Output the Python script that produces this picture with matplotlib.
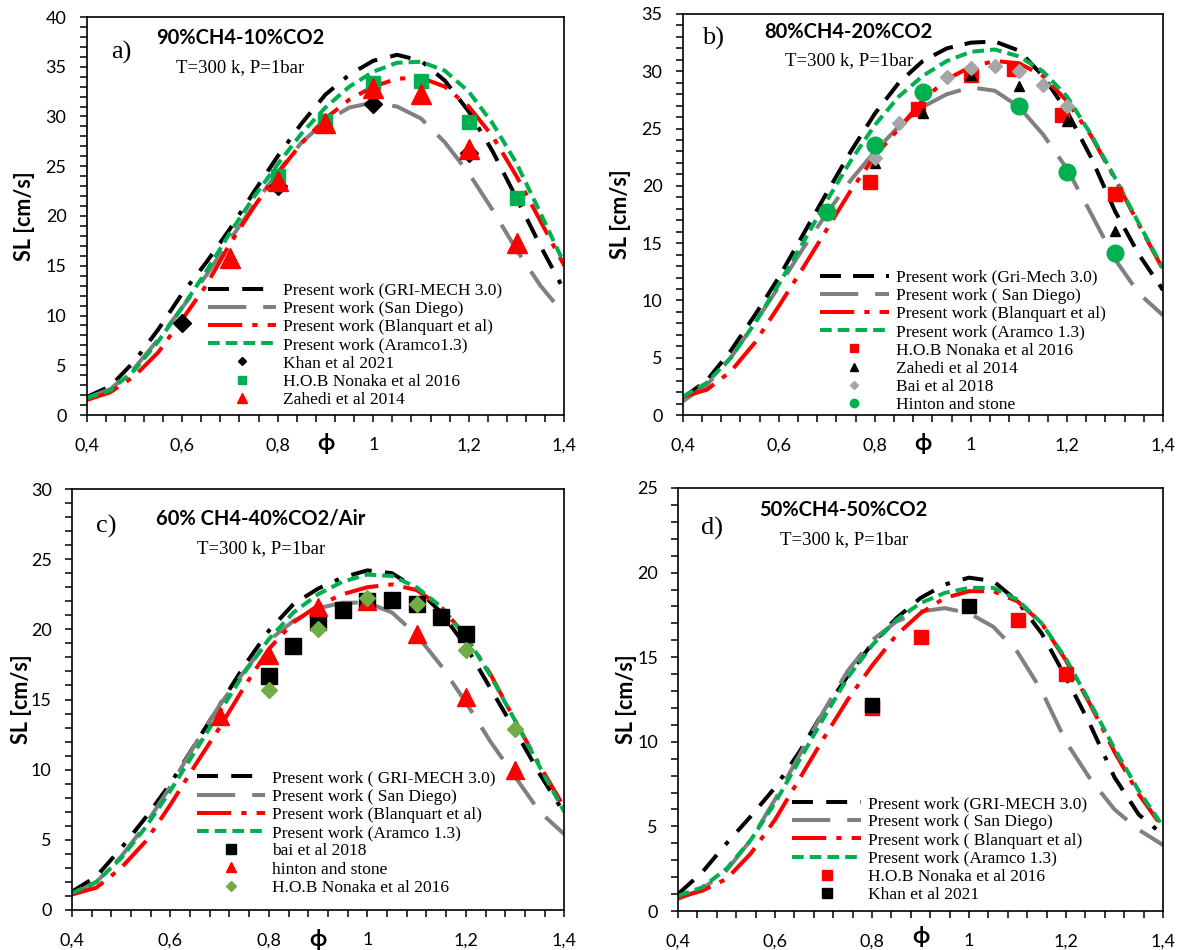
import matplotlib
matplotlib.use("Agg")
import matplotlib.pyplot as plt
from matplotlib.lines import Line2D
from matplotlib.ticker import MultipleLocator, FuncFormatter

# ---------------- data ----------------
PHI = [0.40, 0.45, 0.50, 0.55, 0.60, 0.65, 0.70, 0.75, 0.80, 0.85, 0.90,
       0.95, 1.00, 1.05, 1.10, 1.15, 1.20, 1.25, 1.30, 1.35, 1.40]

# panel a : 90%CH4-10%CO2
A_GRI = [1.8, 2.9, 5.4, 8.6, 12.2, 15.3, 18.7, 22.4, 26.0, 29.3, 32.2,
         34.2, 35.6, 36.2, 35.6, 33.6, 30.5, 26.5, 21.8, 17.0, 12.5]
A_SD = [1.7, 2.6, 4.7, 7.6, 10.8, 14.0, 17.6, 21.1, 24.4, 27.4, 29.5,
        30.9, 31.4, 31.0, 29.8, 27.4, 24.3, 20.6, 16.6, 13.0, 10.1]
A_BLQ = [1.5, 2.3, 3.9, 6.3, 9.6, 13.0, 17.2, 20.9, 24.3, 27.3, 29.8,
         31.7, 33.0, 33.8, 33.9, 33.0, 31.0, 28.0, 24.0, 19.5, 15.0]
A_ARA = [1.7, 2.5, 4.5, 7.4, 10.8, 14.4, 18.3, 21.9, 25.2, 28.3, 30.9,
         33.0, 34.5, 35.4, 35.5, 34.6, 32.5, 29.3, 25.3, 20.3, 15.2]
A_KHAN_X = [0.6, 0.8, 1.0, 1.2]
A_KHAN_Y = [9.2, 23.0, 31.3, 26.3]
A_NON_X = [0.8, 0.9, 1.0, 1.1, 1.2, 1.3]
A_NON_Y = [24.0, 29.5, 33.4, 33.6, 29.4, 21.8]
A_ZAH_X = [0.7, 0.8, 0.9, 1.0, 1.1, 1.2, 1.3]
A_ZAH_Y = [15.8, 23.5, 29.3, 32.9, 32.3, 26.7, 17.3]

# panel b : 80%CH4-20%CO2
B_GRI = [1.5, 3.0, 5.6, 8.7, 12.0, 15.7, 19.4, 23.0, 26.3, 29.0, 30.9,
         32.0, 32.5, 32.6, 31.8, 29.6, 26.5, 22.5, 17.8, 14.0, 10.9]
B_SD = [1.2, 2.6, 5.0, 8.0, 11.2, 14.5, 17.6, 20.5, 23.0, 25.2, 26.9,
        28.0, 28.6, 28.3, 26.9, 24.5, 21.5, 17.6, 13.6, 10.6, 8.7]
B_BLQ = [1.6, 2.2, 3.8, 6.3, 9.5, 12.8, 16.2, 19.6, 22.6, 25.0, 27.5,
         29.3, 30.4, 30.9, 30.7, 29.6, 27.4, 24.4, 20.6, 16.6, 12.7]
B_ARA = [1.6, 2.8, 5.0, 8.0, 11.4, 15.0, 18.7, 22.2, 25.3, 27.8, 29.6,
         30.9, 31.7, 31.9, 31.3, 30.0, 27.8, 24.5, 20.7, 16.7, 12.8]
B_NON_X = [0.79, 0.89, 1.0, 1.09, 1.19, 1.3]
B_NON_Y = [20.3, 26.7, 29.7, 30.2, 26.2, 19.3]
B_ZAH_X = [0.8, 0.9, 1.0, 1.1, 1.2, 1.3]
B_ZAH_Y = [22.0, 26.4, 29.7, 28.7, 25.7, 16.1]
B_BAI_X = [0.8, 0.85, 0.95, 1.0, 1.05, 1.1, 1.15, 1.2]
B_BAI_Y = [22.4, 25.5, 29.5, 30.3, 30.5, 30.0, 28.8, 27.0]
B_HIN_X = [0.7, 0.8, 0.9, 1.1, 1.2, 1.3]
B_HIN_Y = [17.7, 23.6, 28.2, 27.0, 21.2, 14.1]

# panel c : 60%CH4-40%CO2/Air
C_GRI = [1.3, 2.4, 4.4, 6.6, 9.0, 11.8, 14.6, 17.4, 19.9, 21.8, 22.9,
         23.7, 24.2, 24.0, 22.9, 21.2, 18.8, 15.8, 12.8, 9.7, 6.9]
C_SD = [1.1, 2.0, 3.8, 6.1, 8.8, 11.8, 14.6, 17.0, 19.2, 20.6, 21.5,
        21.9, 21.9, 21.2, 19.6, 17.4, 14.8, 12.0, 9.5, 7.0, 5.4]
C_BLQ = [1.1, 1.6, 3.0, 4.9, 7.5, 10.3, 13.0, 15.9, 18.6, 20.5, 21.7,
         22.5, 23.0, 23.2, 22.8, 21.6, 19.5, 16.8, 13.5, 10.3, 7.3]
C_ARA = [1.2, 2.0, 3.7, 5.9, 8.5, 11.3, 14.1, 16.9, 19.3, 21.2, 22.5,
         23.4, 23.9, 23.8, 23.0, 21.6, 19.5, 16.7, 13.5, 10.2, 7.0]
C_BAI_X = [0.8, 0.85, 0.9, 0.95, 1.0, 1.05, 1.1, 1.15, 1.2]
C_BAI_Y = [16.7, 18.8, 20.5, 21.4, 22.0, 22.1, 21.8, 20.9, 19.7]
C_HIN_X = [0.7, 0.8, 0.9, 1.0, 1.1, 1.2, 1.3]
C_HIN_Y = [13.8, 18.2, 21.6, 22.0, 19.7, 15.2, 10.0]
C_NON_X = [0.8, 0.9, 1.0, 1.1, 1.2, 1.3]
C_NON_Y = [15.7, 20.0, 22.2, 21.8, 18.5, 12.9]

# panel d : 50%CH4-50%CO2
D_GRI = [1.0, 2.3, 4.0, 5.6, 7.3, 9.4, 11.8, 13.9, 15.8, 17.3, 18.5,
         19.3, 19.7, 19.5, 18.3, 16.4, 13.8, 11.0, 7.9, 5.7, 4.5]
D_SD = [0.7, 1.3, 2.4, 4.2, 6.6, 9.2, 11.8, 14.2, 16.0, 17.1, 17.7,
        17.9, 17.6, 16.8, 15.3, 13.0, 10.0, 7.8, 6.0, 4.8, 3.9]
D_BLQ = [0.8, 1.2, 1.9, 3.4, 5.4, 7.8, 10.2, 12.5, 14.5, 16.3, 17.6,
         18.5, 18.9, 18.9, 18.3, 17.0, 14.8, 12.2, 9.4, 6.9, 4.9]
D_ARA = [0.9, 1.4, 2.5, 4.2, 6.4, 8.9, 11.4, 13.8, 15.7, 17.2, 18.2,
         18.8, 19.1, 19.1, 18.4, 17.0, 14.9, 12.3, 9.6, 7.1, 5.0]
D_NON_X = [0.8, 0.9, 1.1, 1.2]
D_NON_Y = [12.0, 16.2, 17.2, 14.0]
D_KHAN_X = [0.8, 1.0]
D_KHAN_Y = [12.2, 18.0]

X_TICKS = [0.4, 0.6, 0.8, 1.0, 1.2, 1.4]

# ---------------- style ----------------
SERIF = "Liberation Serif"
SANS = ["Lato", "DejaVu Sans"]
plt.rcParams["font.family"] = SANS

W, H = 1181, 950
fig = plt.figure(figsize=(W / 100, H / 100), dpi=100)

LW = 2.9
BLK_DD = (0, (5.2, 3.3, 5.2, 3.3, 1.1, 3.3))
BLK_D = (0, (5.2, 3.0))
GRAY_D = (0, (9.5, 4.2))
RED_DD = (0, (8.5, 2.5, 1.3, 2.5))
GREEN_D = (0, (2.9, 1.5))

C_RED = "#FF0000"
C_GREEN = "#00B050"
C_GRAY = "#808080"
C_LGREEN = "#70AD47"
C_LGRAY = "#A6A6A6"


def px_axes(left, right, top, bottom):
    return fig.add_axes([left / W, 1 - bottom / H, (right - left) / W, (bottom - top) / H])


def fmt_x(v, _):
    s = f"{v:.1f}".rstrip("0").rstrip(".")
    return s.replace(".", ",")


def setup(ax, ymax):
    ax.set_xlim(0.4, 1.4)
    ax.set_ylim(0, ymax)
    ax.set_xticks(X_TICKS)
    ax.xaxis.set_minor_locator(MultipleLocator(0.04))
    ax.yaxis.set_major_locator(MultipleLocator(5))
    ax.yaxis.set_minor_locator(MultipleLocator(1))
    ax.xaxis.set_major_formatter(FuncFormatter(fmt_x))
    ax.tick_params(axis="x", which="both", direction="out", length=5, width=1.1,
                   pad=11, labelsize=13)
    ax.tick_params(axis="y", which="both", direction="out", length=5, width=1.1,
                   pad=9.5, labelsize=13)
    for sp in ax.spines.values():
        sp.set_linewidth(1.2)
        sp.set_color("black")


def curves(ax, gri, sd, blq, ara, gri_style):
    l1, = ax.plot(PHI, gri, color="black", lw=LW, ls=gri_style, dash_capstyle="butt", zorder=2)
    l2, = ax.plot(PHI, sd, color=C_GRAY, lw=LW, ls=GRAY_D, dash_capstyle="butt", zorder=2)
    l3, = ax.plot(PHI, blq, color=C_RED, lw=LW, ls=RED_DD, dash_capstyle="butt", zorder=2)
    l4, = ax.plot(PHI, ara, color=C_GREEN, lw=LW, ls=GREEN_D, dash_capstyle="butt", zorder=2)
    return [l1, l2, l3, l4]


def texts(ax, title, letter, pos_title, pos_letter, pos_cond, ylab_x, xlab_y):
    ax.text(pos_title[0], pos_title[1], title, transform=ax.transAxes, ha="center",
            va="center", fontsize=14.5, fontweight="bold", family=SANS)
    ax.text(pos_letter[0], pos_letter[1], letter, transform=ax.transAxes, ha="center",
            va="center", fontsize=19, family=SERIF)
    ax.text(pos_cond[0], pos_cond[1], "T=300 k, P=1bar", transform=ax.transAxes,
            ha="center", va="center", fontsize=13.5, family=SERIF)
    ax.text(ylab_x, 0.5, "SL [cm/s]", transform=ax.transAxes, rotation=90, ha="center",
            va="center", fontsize=15.5, fontweight="bold", family=SANS)
    ax.text(0.5, xlab_y, "ϕ", transform=ax.transAxes, ha="center", va="center",
            fontsize=16, fontweight="bold", family=SANS)


def legend(ax, handles, labels, x, y):
    ax.legend(handles, labels, loc="upper left", bbox_to_anchor=(x, y), frameon=False,
              borderpad=0, borderaxespad=0, handlelength=3.95, handletextpad=0.4,
              labelspacing=0.12, prop={"family": SERIF, "size": 12.5})


def mk(marker, color, ms):
    return Line2D([], [], ls="none", marker=marker, color=color, ms=ms, mec=color)


# ---------------- panel a ----------------
ax = px_axes(86.6, 564.3, 17, 415)
setup(ax, 40)
lines = curves(ax, A_GRI, A_SD, A_BLQ, A_ARA, BLK_DD)
ax.plot(A_KHAN_X, A_KHAN_Y, ls="none", marker="D", ms=8.7, color="black", zorder=3)
ax.plot(A_NON_X, A_NON_Y, ls="none", marker="s", ms=9.8, color=C_GREEN, zorder=3)
ax.plot(A_ZAH_X, A_ZAH_Y, ls="none", marker="^", ms=14, color=C_RED, zorder=3)
texts(ax, "90%CH4-10%CO2", "a)", (0.322, 0.947), (0.072, 0.912), (0.322, 0.872), -0.131, -0.071)
legend(ax, lines + [mk("D", "black", 4.5), mk("s", C_GREEN, 6), mk("^", C_RED, 6.5)],
       ["Present work (GRI-MECH 3.0)", "Present work (San Diego)",
        "Present work (Blanquart et al)", "Present work (Aramco1.3)",
        "Khan et al 2021", "H.O.B Nonaka et al 2016", "Zahedi et al 2014"],
       0.2535, 0.333)

# ---------------- panel b ----------------
ax = px_axes(682.7, 1163, 14, 415)
setup(ax, 35)
lines = curves(ax, B_GRI, B_SD, B_BLQ, B_ARA, BLK_D)
ax.plot(B_NON_X, B_NON_Y, ls="none", marker="s", ms=9.5, color=C_RED, zorder=3)
ax.plot(B_ZAH_X, B_ZAH_Y, ls="none", marker="^", ms=7.5, color="black", zorder=3)
ax.plot(B_BAI_X, B_BAI_Y, ls="none", marker="D", ms=6.8, color=C_LGRAY, zorder=3)
ax.plot(B_HIN_X, B_HIN_Y, ls="none", marker="o", ms=12, color=C_GREEN, zorder=3)
texts(ax, "80%CH4-20%CO2", "b)", (0.344, 0.956), (0.063, 0.940), (0.346, 0.885), -0.1305, -0.07)
legend(ax, lines + [mk("s", C_RED, 6), mk("^", "black", 5.5), mk("D", C_LGRAY, 4.3),
                    mk("o", C_GREEN, 6)],
       ["Present work (Gri-Mech 3.0)", "Present work ( San Diego)",
        "Present work (Blanquart et al)", "Present work (Aramco 1.3)",
        "H.O.B Nonaka et al 2016", "Zahedi et al 2014", "Bai et al 2018",
        "Hinton and stone"],
       0.286, 0.363)

# ---------------- panel c ----------------
ax = px_axes(71.9, 564.3, 489, 910)
setup(ax, 30)
lines = curves(ax, C_GRI, C_SD, C_BLQ, C_ARA, BLK_DD)
ax.plot(C_BAI_X, C_BAI_Y, ls="none", marker="s", ms=11.5, color="black", zorder=3)
ax.plot(C_HIN_X, C_HIN_Y, ls="none", marker="^", ms=12.5, color=C_RED, zorder=3)
ax.plot(C_NON_X, C_NON_Y, ls="none", marker="D", ms=8.5, color=C_LGREEN, zorder=3)
texts(ax, "60% CH4-40%CO2/Air", "c)", (0.383, 0.930), (0.069, 0.910), (0.384, 0.859), -0.103, -0.071)
legend(ax, lines + [mk("s", "black", 7), mk("^", C_RED, 6.5), mk("D", C_LGREEN, 5)],
       ["Present work ( GRI-MECH 3.0)", "Present work ( San Diego)",
        "Present work (Blanquart et al)", "Present work (Aramco 1.3)",
        "bai et al 2018", "hinton and stone", "H.O.B Nonaka et al 2016"],
       0.2535, 0.332)

# ---------------- panel d ----------------
ax = px_axes(678.1, 1163, 488, 911)
setup(ax, 25)
lines = curves(ax, D_GRI, D_SD, D_BLQ, D_ARA, BLK_DD)
ax.plot(D_NON_X, D_NON_Y, ls="none", marker="s", ms=10.5, color=C_RED, zorder=3)
ax.plot(D_KHAN_X, D_KHAN_Y, ls="none", marker="s", ms=10, color="black", zorder=3)
texts(ax, "50%CH4-50%CO2", "d)", (0.341, 0.948), (0.070, 0.905), (0.342, 0.877), -0.107, -0.061)
legend(ax, lines + [mk("s", C_RED, 6.5), mk("s", "black", 6.5)],
       ["Present work (GRI-MECH 3.0)", "Present work ( San Diego)",
        "Present work ( Blanquart et al)", "Present work (Aramco 1.3)",
        "H.O.B Nonaka et al 2016", "Khan et al 2021"],
       0.2355, 0.272)

fig.savefig("out.png", dpi=100)
